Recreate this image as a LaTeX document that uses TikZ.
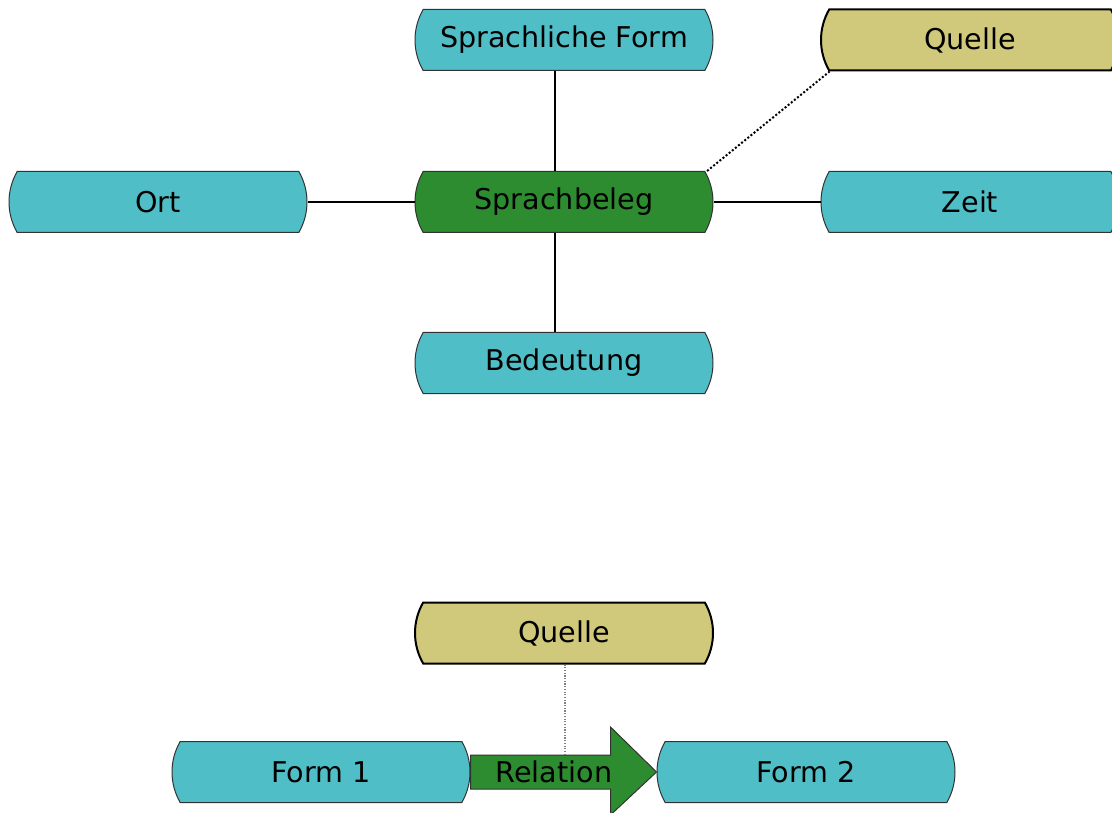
\documentclass[tikz,border=0pt]{standalone}
\usepackage{fontspec}
\setmainfont{DejaVu Sans}
\usetikzlibrary{shapes.misc,calc}
\definecolor{boxcyan}{RGB}{80,190,198}
\definecolor{boxgreen}{RGB}{46,140,48}
\definecolor{boxsand}{RGB}{208,200,122}
\definecolor{rimgray}{RGB}{50,50,50}
\tikzset{
  tube/.style={rounded rectangle, rounded rectangle arc length=60,
    minimum width=298pt, minimum height=61pt, inner sep=0pt,
    draw=rimgray, line width=1pt, fill=boxcyan,
    font=\fontsize{28.6}{34}\selectfont},
  core/.style={tube, fill=boxgreen},
  source/.style={tube, fill=boxsand, draw=black, line width=2pt},
  link/.style={draw=black, line width=2pt},
  sourcelink/.style={draw=black, line width=2pt, dotted},
  thinsource/.style={draw=gray, line width=1.2pt, dash pattern=on 1.2pt off 1.5pt},
  label/.style={font=\fontsize{28.6}{34}\selectfont, inner sep=0pt}
}
\begin{document}
\begin{tikzpicture}[x=1pt,y=-1pt]
\useasboundingbox (0,0) rectangle (1112,813);
\fill[white] (0,0) rectangle (1112,813);

% upper cluster
\node[tube]   (form)  at (564,40)  {Sprachliche Form};
\node[source] (qtop)  at (970,40)  {Quelle};
\node[tube]   (ort)   at (158,202) {Ort};
\node[core]   (beleg) at (564,202) {Sprachbeleg};
\node[tube]   (zeit)  at (970,202) {Zeit};
\node[tube]   (bed)   at (564,363) {Bedeutung};

\path[link] ($(form.south)+(-9,0)$) -- ($(beleg.north)+(-9,0)$);
\path[link] ($(beleg.south)+(-9,0)$) -- ($(bed.north)+(-9,0)$);
\path[link] (ort.east) -- (beleg.west);
\path[link] (beleg.east) -- (zeit.west);
\path[sourcelink] ($(beleg.north east)+(2,0)$) -- ($(qtop.south west)+(1,0)$);

% lower cluster
\node[source] (qbot)  at (564,633) {Quelle};
\node[tube]   (f1)    at (321,772) {Form 1};
\node[tube]   (f2)    at (806,772) {Form 2};

\path[draw=rimgray, line width=1pt, fill=boxgreen]
  ($(f1.east)+(0,-17)$) -- ($(f2.west)+(-46,-17)$) -- ($(f2.west)+(-46,-45)$)
  -- (f2.west) -- ($(f2.west)+(-46,43)$) -- ($(f2.west)+(-46,17)$)
  -- ($(f1.east)+(0,17)$) -- cycle;
\node[label] (rel) at (554,772) {Relation};
\path[thinsource] ($(qbot.south)+(1,0)$) -- ($(qbot.south)+(1,91)$);
\end{tikzpicture}
\end{document}
